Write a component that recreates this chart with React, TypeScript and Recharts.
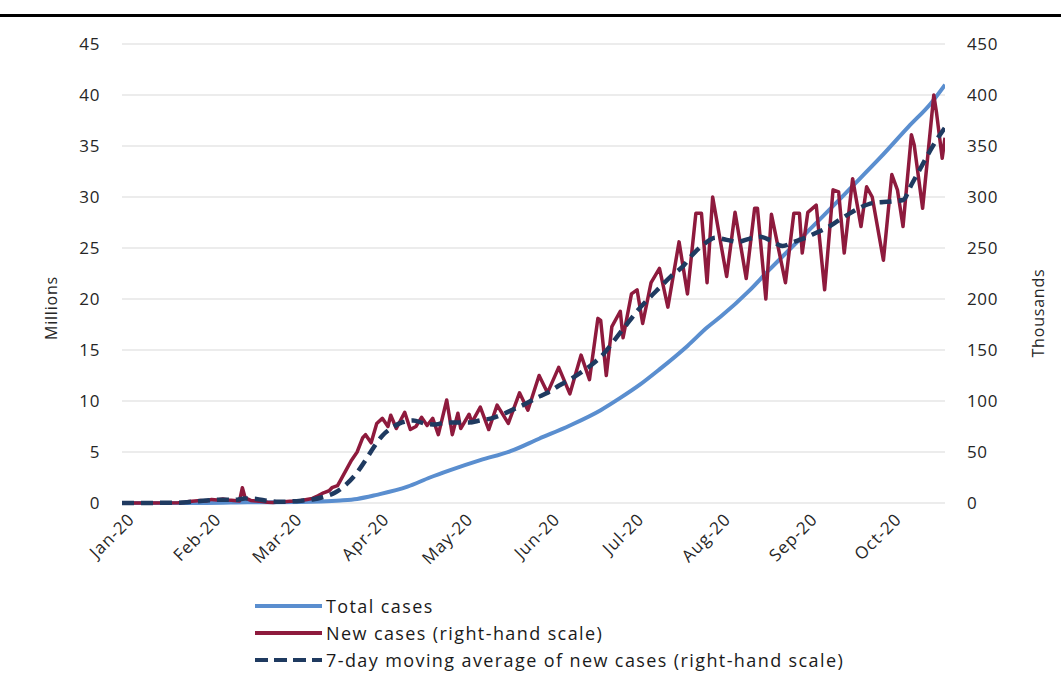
import { LineChart, Line, XAxis, YAxis, CartesianGrid } from 'recharts';

// x = days since 1 Jan 2020
const monthTicks = [0, 31, 60, 91, 121, 152, 182, 213, 244, 274];
const monthLabels = ['Jan-20', 'Feb-20', 'Mar-20', 'Apr-20', 'May-20', 'Jun-20', 'Jul-20', 'Aug-20', 'Sep-20', 'Oct-20'];

const leftTicks = [0, 5, 10, 15, 20, 25, 30, 35, 40, 45];
const rightTicks = [0, 50, 100, 150, 200, 250, 300, 350, 400, 450];

// total cases, millions (left-hand scale)
const totalDays = [0, 30, 45, 64, 71, 78, 84, 91, 102, 110, 117, 128, 139, 149, 160, 171, 178, 185, 192, 202, 209, 214, 224, 231, 239, 250, 260, 271, 281, 289, 294];
const totalCases = [0, 0.01, 0.07, 0.1, 0.15, 0.25, 0.4, 0.8, 1.6, 2.5, 3.2, 4.2, 5.1, 6.3, 7.6, 9.1, 10.3, 11.6, 13.1, 15.4, 17.2, 18.3, 20.8, 22.8, 25.0, 28.0, 30.8, 33.9, 36.9, 39.2, 41.0];

// new cases, thousands (right-hand scale)
const newDays = [
  0, 10, 20, 22, 24, 26, 28, 30, 32, 34, 36, 38, 40, 42, 43, 44, 46, 48, 50, 52, 54, 56, 58, 60, 62, 64, 66, 68,
  70, 72, 74, 75, 77, 78, 80, 82, 84, 86, 87, 89, 91, 93, 95, 96, 98, 101, 103, 105, 107, 109, 111, 113, 116, 118,
  120, 121, 124, 125, 128, 131, 134, 138, 142, 145, 149, 152, 156, 160, 164, 167, 170, 171, 173, 175, 178, 179,
  182, 184, 186, 189, 192, 195, 199, 202, 205, 207, 209, 211, 214, 216, 219, 223, 226, 227, 230, 232, 237, 240,
  242, 243, 245, 248, 251, 254, 256, 258, 261, 264, 266, 268, 272, 275, 277, 279, 282, 283, 286, 290, 291, 293, 294,
];
const newCases = [
  0, 0, 0.2, 0.4, 1.5, 2, 2.5, 2, 3.5, 3, 4, 3, 2.5, 2, 15, 5, 2.5, 2, 1.5, 0.8, 0.6, 1, 1.2, 1.8, 2, 2.5, 3.5, 4.5,
  7, 10, 12, 15, 17, 22, 32, 42, 50, 64, 67, 59, 78, 83, 75, 86, 73, 89, 72, 75, 84, 76, 83, 67, 101, 67,
  88, 73, 87, 79, 94, 72, 96, 78, 108, 91, 125, 108, 133, 107, 145, 121, 181, 179, 125, 173, 188, 162,
  205, 209, 176, 216, 230, 192, 256, 205, 284, 284, 216, 300, 253, 222, 285, 220, 289, 289, 200, 283, 216, 284,
  284, 245, 285, 292, 209, 307, 305, 245, 318, 271, 310, 300, 238, 322, 307, 271, 361, 351, 289, 400, 382, 338, 358,
];

// 7-day moving average, thousands (right-hand scale)
const avgDays = [
  0, 20, 24, 28, 32, 36, 40, 44, 48, 52, 56, 60, 64, 68, 72, 76, 80, 84, 87, 90, 93, 96, 100, 104, 108, 112, 116,
  120, 124, 128, 132, 136, 140, 144, 148, 152, 156, 160, 164, 168, 172, 176, 180, 184, 188, 192, 196, 200, 204,
  208, 212, 216, 220, 224, 228, 232, 236, 240, 244, 248, 252, 256, 260, 264, 268, 272, 276, 279, 282, 285, 288, 291, 294,
];
const avgCases = [
  0, 0.3, 1, 2, 2.8, 3.3, 3, 4.5, 4, 2, 1.2, 1.5, 2.3, 3.5, 6, 10, 18, 30, 42, 55, 66, 73, 79, 81, 78, 77, 79,
  79, 79, 81, 83, 87, 92, 97, 103, 108, 115, 121, 128, 136, 146, 160, 174, 188, 200, 211, 222, 231, 244,
  254, 260, 258, 256, 259, 261, 257, 252, 256, 260, 265, 270, 277, 284, 290, 294, 295, 296, 297, 312, 327, 342, 356, 368,
];

const totalData = totalDays.map((d, i) => ({ day: d, total: totalCases[i] }));
const newData = newDays.map((d, i) => ({ day: d, newCases: newCases[i] }));
const avgData = avgDays.map((d, i) => ({ day: d, avg: avgCases[i] }));

const BLUE = '#5A8ECF';
const RED = '#8E1A3D';
const NAVY = '#1F3A60';
const FONT = '"Open Sans", sans-serif';
const TEXT = '#262626';

function MonthTick(props: any) {
  const { x, y, payload } = props;
  const idx = monthTicks.indexOf(payload.value);
  return (
    <g transform={`translate(${x + 5},${y + 1})`}>
      <text
        transform="rotate(-45)"
        textAnchor="end"
        dy="0.7em"
        fontSize={17}
        letterSpacing={0.9}
        fontFamily={FONT}
        fill={TEXT}
      >
        {monthLabels[idx]}
      </text>
    </g>
  );
}

function LegendRow({ color, dashed, label, top }: { color: string; dashed?: boolean; label: string; top: number }) {
  return (
    <div style={{ position: 'absolute', left: 254, top: top - 13, height: 26, display: 'flex', alignItems: 'center' }}>
      <svg width={70} height={10}>
        <line x1={1} y1={5} x2={68} y2={5} stroke={color} strokeWidth={4} strokeDasharray={dashed ? '13 6' : undefined} />
      </svg>
      <span style={{ marginLeft: 2, fontFamily: FONT, fontSize: 18, letterSpacing: 1.4, color: '#1a1a1a' }}>{label}</span>
    </div>
  );
}

const axisTitle = {
  position: 'absolute' as const,
  transform: 'translate(-50%, -50%) rotate(-90deg)',
  fontFamily: FONT,
  fontSize: 16,
  letterSpacing: 0.8,
  color: TEXT,
  whiteSpace: 'nowrap' as const,
};

export default function App() {
  return (
    <div style={{ position: 'absolute', left: 0, top: 0, width: 1061, height: 673, background: '#fff', overflow: 'hidden' }}>
      <div style={{ position: 'absolute', left: 0, top: 14, width: 1061, height: 3, background: '#000' }} />
      <LineChart width={1061} height={673} margin={{ top: 44, right: 0, bottom: 90, left: 0 }}>
        <CartesianGrid yAxisId="left" vertical={false} stroke="#D9D9D9" strokeWidth={1.2} />
        <XAxis
          dataKey="day"
          type="number"
          domain={[0, 294]}
          ticks={monthTicks}
          allowDataOverflow
          axisLine={false}
          tickLine={false}
          height={80}
          tick={<MonthTick />}
          interval={0}
        />
        <YAxis
          yAxisId="left"
          domain={[0, 45]}
          ticks={leftTicks}
          width={122}
          axisLine={false}
          tickLine={false}
          tickMargin={16}
          tick={{ fontSize: 17, fontFamily: FONT, fill: TEXT, letterSpacing: 0.6 }}
        />
        <YAxis
          yAxisId="right"
          orientation="right"
          domain={[0, 450]}
          ticks={rightTicks}
          width={116}
          axisLine={false}
          tickLine={false}
          tickMargin={16}
          tick={{ fontSize: 17, fontFamily: FONT, fill: TEXT, textAnchor: 'start', letterSpacing: 0.6 }}
        />
        <Line
          yAxisId="left"
          data={totalData}
          dataKey="total"
          type="monotone"
          stroke={BLUE}
          strokeWidth={4}
          dot={false}
          isAnimationActive={false}
        />
        <Line
          yAxisId="right"
          data={newData}
          dataKey="newCases"
          type="linear"
          stroke={RED}
          strokeWidth={3.5}
          strokeLinejoin="round"
          dot={false}
          isAnimationActive={false}
        />
        <Line
          yAxisId="right"
          data={avgData}
          dataKey="avg"
          type="monotone"
          stroke={NAVY}
          strokeWidth={4.5}
          strokeDasharray="12 7"
          dot={false}
          isAnimationActive={false}
        />
      </LineChart>
      <div style={{ ...axisTitle, left: 51, top: 308 }}>Millions</div>
      <div style={{ ...axisTitle, left: 1038, top: 313 }}>Thousands</div>
      <LegendRow color={BLUE} label="Total cases" top={606} />
      <LegendRow color={RED} label="New cases (right-hand scale)" top={633} />
      <LegendRow color={NAVY} dashed label="7-day moving average of new cases (right-hand scale)" top={660} />
    </div>
  );
}
